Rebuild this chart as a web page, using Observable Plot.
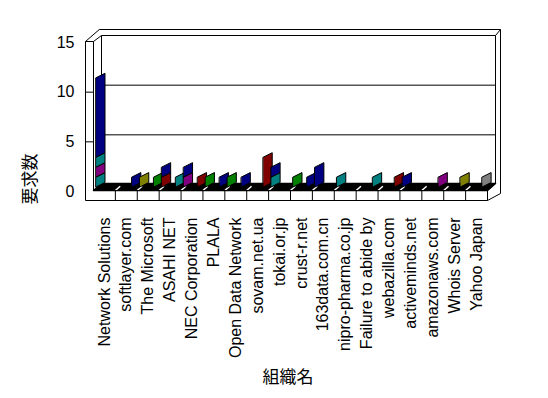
<!DOCTYPE html>
<html><head><meta charset="utf-8">
<script src="https://cdn.jsdelivr.net/npm/d3@7"></script>
<script src="https://cdn.jsdelivr.net/npm/@observablehq/plot@0.6"></script>
<style>html,body{margin:0;padding:0;background:#fff}svg{display:block}</style>
</head><body><div id="chart"></div>
<script>
// ---- data ----
const categories = ["Network Solutions","softlayer.com","The Microsoft","ASAHI NET","NEC Corporation","PLALA","Open Data Network","sovam.net.ua","tokai.or.jp","crust-r.net","163data.com.cn","nipro-pharma.co.jp","Failure to abide by","webazilla.com","activeminds.net","amazonaws.com","Whois Server","Yahoo Japan"];
const yTicks = [0, 5, 10, 15];
const yTitle = "要求数";
const xTitle = "組織名";
// bar segments (stacked bottom → top within a category / group)
const segCategory = [0,0,0,0, 1, 2,2, 3,3,3, 4,4,4, 5,5, 6,6, 7, 8,8, 9,9, 10, 11, 12, 13, 14, 15, 16, 17];
const segGroup    = [0,0,0,0, 1, 0,1, 0,0,1, 0,0,1, 0,1, 0,1, 1, 0,0, 0,1, 0,  0,  1,  1,  0,  1,  1,  1];
const segColor    = ["teal","purple","teal","navy", "navy", "olive","green", "maroon","navy","teal", "purple","navy","maroon", "green","navy", "green","navy", "maroon", "teal","navy", "green","navy", "navy", "teal", "teal", "maroon", "navy", "purple", "olive", "gray"];
const segCount    = [1,1,1,8, 1, 1,1, 1,1,1, 1,1,1, 1,1, 1,1, 3, 1,1, 1,1, 2, 1, 1, 1, 1, 1, 1, 1];

// ---- geometry (styles) ----
const n = categories.length, yMax = 15;
const W = 548, H = 398, mL = 93, mR = 61, mT = 42, mB = 207;
const XU = (W - mL - mR) / n, YU = (H - mT - mB) / yMax;
const DX = 8 / XU, DY = 7 / YU;          // depth vector
const SX = 5 / XU, SY = 6 / YU;          // wall slab thickness
const YB = -9 / YU, F0 = 1 / YU;          // floor front face
const B0 = 4 / YU, R = 4.5 / YU, BW = 9 / XU; // bar base, slant, width
const groupOffset = [3 / XU, 17 / XU];

// stacked segments -> parallelograms
const bars = [];
const acc = new Map();
segCount.forEach((v, k) => {
  const key = segCategory[k] + "-" + segGroup[k];
  const b = acc.get(key) || 0;
  acc.set(key, b + v);
  const xl = segCategory[k] + groupOffset[segGroup[k]];
  bars.push({k, c: segColor[k], x: xl, y1: B0 + b, y2: B0 + b + v});
  bars.push({k, c: segColor[k], x: xl + BW, y1: B0 + R + b, y2: B0 + R + b + v});
});

const L = (x1, y1, x2, y2) => ({x1, y1, x2, y2});
const yTop = yMax + 0.1;
const lines = [
  L(-DX, YB, -DX, yTop), L(0, F0, 0, yTop), L(-DX, yTop, 0, yTop),
  L(-DX, yTop, DX - 0.1, yMax + DY + SY), L(0, yTop, DX, yMax + DY),
  L(DX - 0.1, yMax + DY + SY, n + DX + SX, yMax + DY + SY),
  L(DX, yMax + DY, n + DX, yMax + DY),
  L(n + DX, yMax + DY, n + DX + SX, yMax + DY + SY),
  L(n + DX, yMax + DY, n + DX, F0 + DY),
  L(n + DX + SX, yMax + DY + SY, n + DX + SX, YB + DY),
  L(n + DX + SX, YB + DY, n, YB),
  L(DX, yMax + DY, DX, F0 + DY),
  L(0, F0, n, F0), L(-DX, YB, n, YB), L(n, YB, n, F0), L(n, F0, n + DX, F0 + DY),
  ...yTicks.filter(t => t > 0 && t < yMax).map(t => L(DX, t + DY, n + DX, t + DY)),
  ...yTicks.filter(t => t > 0 && t < yMax).map(t => L(-DX, t, 0, t)),
  ...d3.range(1, n).map(i => L(i, YB, i, F0))
];
const floor = [[0, F0], [n, F0], [n + DX, F0 + DY], [DX, F0 + DY], [0, F0]];
const floorMarks = d3.range(1, n).map(i => L(i, F0, i + 0.6 * DX, F0 + 0.6 * DY));

const chart = Plot.plot({
  width: W, height: H,
  marginLeft: mL, marginRight: mR, marginTop: mT, marginBottom: mB,
  x: {domain: [0, n]},
  y: {domain: [0, yMax]},
  color: {type: "identity"},
  style: {fontFamily: "'Liberation Sans', Arial, sans-serif", background: "#fff", color: "#000"},
  marks: [
    Plot.line(floor, {x: d => d[0], y: d => d[1], fill: "black", stroke: "black"}),
    Plot.link(floorMarks, {x1: "x1", y1: "y1", x2: "x2", y2: "y2", stroke: "white", strokeWidth: 1.5}),
    Plot.link(lines, {x1: "x1", y1: "y1", x2: "x2", y2: "y2", stroke: "black", strokeWidth: 1}),
    Plot.area(bars, {x1: "x", y1: "y1", y2: "y2", z: "k", fill: "c", stroke: "black", strokeWidth: 1, curve: "linear"}),
    Plot.axisY({ticks: yTicks, tickSize: 0, tickPadding: 19, fontSize: 16, label: null}),
    Plot.axisX({ticks: d3.range(n).map(i => i + 0.5), tickFormat: d => categories[Math.floor(d)], tickRotate: -90, tickSize: 0, tickPadding: 26, fontSize: 16, label: null}),
    Plot.text([yTitle], {frameAnchor: "left", y: -13 / YU, dx: -63, rotate: -90, fontSize: 17, fontFamily: "'Noto Sans CJK JP', sans-serif"}),
    Plot.text([xTitle], {frameAnchor: "bottom-left", dx: 169, dy: 191, fontSize: 17, fontFamily: "'Noto Sans CJK JP', sans-serif"})
  ]
});
document.getElementById("chart").appendChild(chart);
</script>
</body></html>
